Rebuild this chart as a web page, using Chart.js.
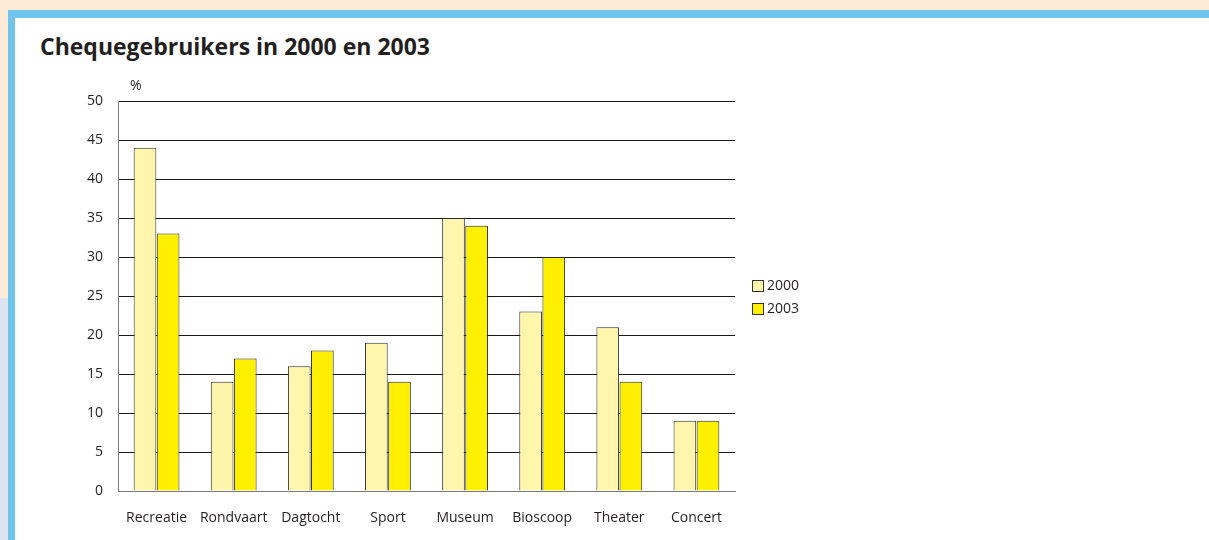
<!DOCTYPE html>
<html>
<head>
<meta charset="utf-8">
<script src="https://cdn.jsdelivr.net/npm/chart.js@4"></script>
<style>
  html, body { margin: 0; padding: 0; width: 1209px; height: 540px; overflow: hidden; background: #FDEBD7; }
  #strip { position: absolute; left: 0; top: 298px; width: 8px; height: 242px; background: #DCE3F1; }
  #frame { position: absolute; left: 8px; top: 10px; width: 1201px; height: 530px; background: #6EC4EA; }
  #panel { position: absolute; left: 15px; top: 18px; width: 1194px; height: 522px; background: #ffffff; }
  #title { position: absolute; left: 40px; top: 30px; margin: 0; font: bold 23px "Open Sans", sans-serif; color: #231f20; letter-spacing: 0px; line-height: 32px; }
  #c { position: absolute; left: 0; top: 0; }
</style>
</head>
<body>
<div id="strip"></div>
<div id="frame"></div>
<div id="panel"></div>
<h1 id="title">Chequegebruikers in 2000 en 2003</h1>
<canvas id="c" width="1209" height="540"></canvas>
<script>
const categories = ["Recreatie", "Rondvaart", "Dagtocht", "Sport", "Museum", "Bioscoop", "Theater", "Concert"];
const values2000 = [44, 14, 16, 19, 35, 23, 21, 9];
const values2003 = [33, 17, 18, 14, 34, 30, 14, 9];
const seriesLabels = ["2000", "2003"];
const yTicks = [0, 5, 10, 15, 20, 25, 30, 35, 40, 45, 50];
const unitLabel = "%";

const FONT = '"Open Sans", sans-serif';
const TEXT = '#231f20';

const extras = {
  id: 'extras',
  afterDraw(chart) {
    const ctx = chart.ctx;
    const y = chart.scales.y;
    ctx.save();
    ctx.fillStyle = TEXT;
    ctx.font = '14px ' + FONT;
    ctx.textAlign = 'left';
    ctx.textBaseline = 'middle';
    ctx.fillText(unitLabel, y.right + 12, y.top - 15);
    // legend
    const lx = chart.chartArea.right + 17;
    chart.data.datasets.forEach((ds, i) => {
      const cy = 286 + i * 23;
      ctx.fillStyle = ds.backgroundColor;
      ctx.fillRect(lx + 0.5, cy - 5.5, 11, 11);
      ctx.strokeStyle = '#333333';
      ctx.lineWidth = 1;
      ctx.strokeRect(lx + 0.5, cy - 5.5, 11, 11);
      ctx.fillStyle = TEXT;
      ctx.fillText(ds.label, lx + 15, cy + 0.5);
    });
    ctx.restore();
  }
};

new Chart(document.getElementById('c'), {
  type: 'bar',
  data: {
    labels: categories,
    datasets: [
      { label: seriesLabels[0], data: values2000, backgroundColor: '#FFF6AE', borderColor: '#2a2a2a', borderWidth: 1 },
      { label: seriesLabels[1], data: values2003, backgroundColor: '#FFEF00', borderColor: '#2a2a2a', borderWidth: 1 }
    ]
  },
  options: {
    responsive: false,
    animation: false,
    events: [],
    layout: { padding: { left: 0, right: 474, top: 101, bottom: 0 } },
    datasets: { bar: { categoryPercentage: 0.6, barPercentage: 0.98, borderSkipped: 'bottom' } },
    plugins: { legend: { display: false }, tooltip: { enabled: false }, title: { display: false } },
    scales: {
      x: {
        grid: { display: false, drawTicks: false },
        border: { display: true, color: '#7a7a7a', width: 1 },
        ticks: { color: TEXT, font: { family: FONT, size: 14 }, padding: 19, maxRotation: 0, autoSkip: false },
        afterFit(s) { s.height = 49; }
      },
      y: {
        min: 0, max: 50,
        afterBuildTicks(s) { s.ticks = yTicks.map(v => ({ value: v })); },
        grid: { color: '#1a1a1a', lineWidth: 1, drawTicks: false },
        border: { display: true, color: '#7a7a7a', width: 1 },
        ticks: { color: TEXT, font: { family: FONT, size: 14 }, padding: 15 },
        afterFit(s) { s.width = 118; }
      }
    }
  },
  plugins: [extras]
});
</script>
</body>
</html>
